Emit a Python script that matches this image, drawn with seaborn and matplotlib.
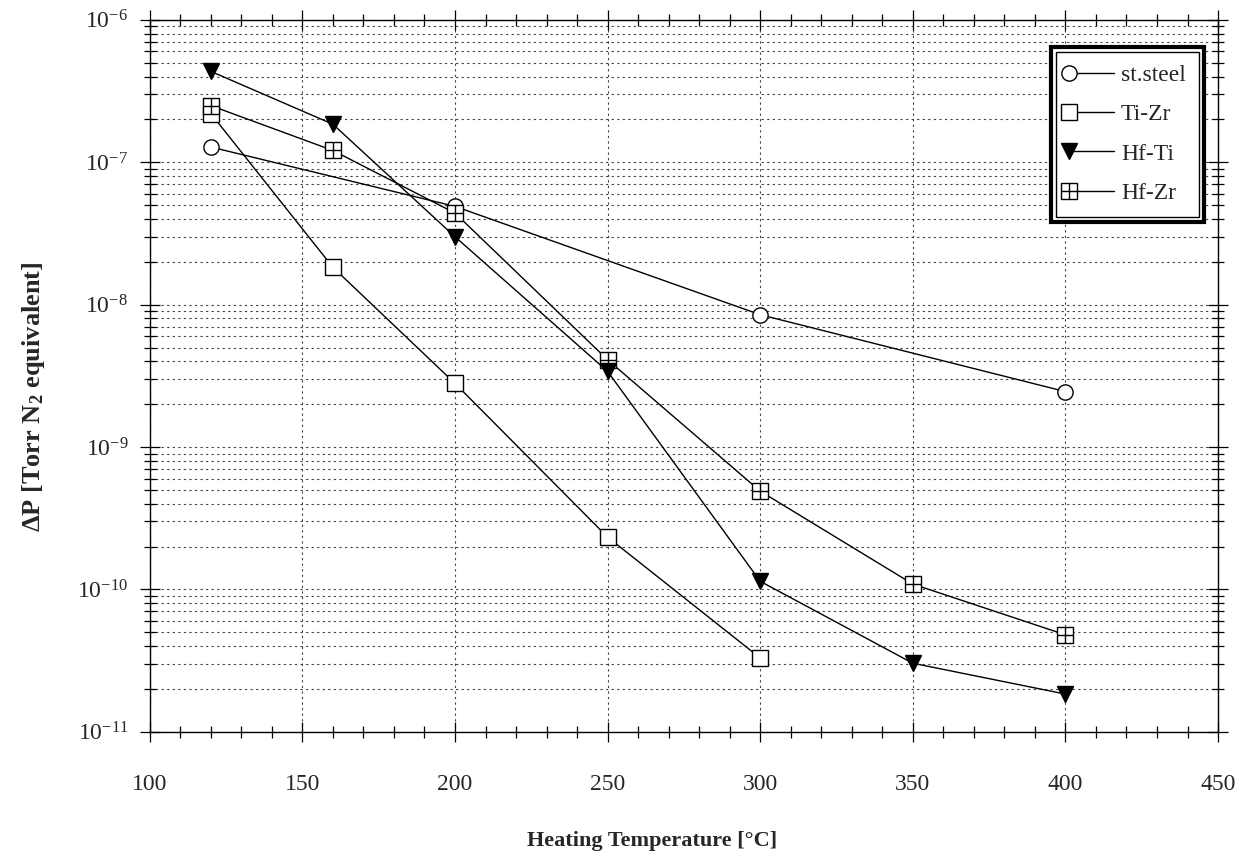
import numpy as np
import pandas as pd
import matplotlib.pyplot as plt
import seaborn as sns
from matplotlib.path import Path
from matplotlib.patches import Rectangle
from matplotlib.lines import Line2D
from matplotlib.legend_handler import HandlerLine2D
from matplotlib.ticker import FixedLocator, LogLocator, MultipleLocator, NullFormatter

# values (Torr N2 equivalent)
temps_steel = [120, 200, 300, 400]
steel = [1.28e-7, 4.9e-8, 8.5e-9, 2.45e-9]

temps_tizr = [120, 160, 200, 250, 300]
tizr = [2.2e-7, 1.83e-8, 2.8e-9, 2.33e-10, 3.3e-11]

temps_hf = [120, 160, 200, 250, 300, 350, 400]
hfti = [4.35e-7, 1.85e-7, 3.0e-8, 3.4e-9, 1.14e-10, 3.03e-11, 1.84e-11]
hfzr = [2.5e-7, 1.21e-7, 4.4e-8, 4.1e-9, 4.9e-10, 1.09e-10, 4.8e-11]

series = ["st.steel", "Ti-Zr", "Hf-Ti", "Hf-Zr"]
y_decades = [1e-11, 1e-10, 1e-9, 1e-8, 1e-7, 1e-6]

df = pd.concat([
    pd.DataFrame({"T": temps_steel, "dP": steel, "sample": "st.steel"}),
    pd.DataFrame({"T": temps_tizr, "dP": tizr, "sample": "Ti-Zr"}),
    pd.DataFrame({"T": temps_hf, "dP": hfti, "sample": "Hf-Ti"}),
    pd.DataFrame({"T": temps_hf, "dP": hfzr, "sample": "Hf-Zr"}),
])

# square with a cross inside
sq_plus = Path(
    [(-1, -1), (1, -1), (1, 1), (-1, 1), (-1, -1), (0, -1), (0, 1), (-1, 0), (1, 0)],
    [Path.MOVETO, Path.LINETO, Path.LINETO, Path.LINETO, Path.CLOSEPOLY,
     Path.MOVETO, Path.LINETO, Path.MOVETO, Path.LINETO],
)
marker_style = {
    "st.steel": dict(marker="o", markerfacecolor="white", zorder=3),
    "Ti-Zr": dict(marker="s", markerfacecolor="white", zorder=3),
    "Hf-Ti": dict(marker="v", markerfacecolor="black", zorder=4),
    "Hf-Zr": dict(marker=sq_plus, markerfacecolor="white", zorder=3),
}


class LeftMarker(HandlerLine2D):
    # marker at the left end of the legend line, as in the old plot
    def create_artists(self, legend, orig_handle, xdescent, ydescent,
                       width, height, fontsize, trans):
        arts = super().create_artists(legend, orig_handle, xdescent, ydescent,
                                      width, height, fontsize, trans)
        arts[0].set_markevery([0])
        return arts


sns.set_style("ticks")
plt.rcParams["font.family"] = ["Liberation Serif", "DejaVu Serif"]
plt.rcParams["mathtext.default"] = "regular"

fig, ax = plt.subplots(figsize=(12.48, 8.65), dpi=100)
fig.subplots_adjust(left=0.120, right=0.976, top=0.977, bottom=0.154)

for name in series:
    sns.lineplot(data=df[df["sample"] == name], x="T", y="dP", ax=ax,
                 color="black", lw=1.0, label=name, markersize=11,
                 markeredgecolor="black", markeredgewidth=1.0,
                 **marker_style[name])

ax.set_yscale("log")
ax.set_xlim(100, 450)
ax.set_ylim(1e-11, 1e-6)
ax.xaxis.set_major_locator(MultipleLocator(50))
ax.xaxis.set_minor_locator(MultipleLocator(10))
ax.yaxis.set_major_locator(FixedLocator(y_decades))
ax.yaxis.set_minor_locator(LogLocator(base=10, subs=np.arange(2, 10), numticks=20))
ax.yaxis.set_minor_formatter(NullFormatter())

ax.grid(which="major", axis="x", color="0.25", linestyle=(0, (2, 3)), lw=0.8)
ax.grid(which="both", axis="y", color="0.25", linestyle=(0, (2, 3)), lw=0.8)

ax.tick_params(which="both", direction="inout", top=True, right=True,
               color="black", width=0.9, labelsize=17)
ax.tick_params(which="major", length=15)
ax.tick_params(which="minor", length=8)
ax.tick_params(axis="x", which="major", pad=23)
ax.tick_params(axis="y", which="major", pad=8)
for sp in ax.spines.values():
    sp.set_visible(True)
    sp.set_color("black")
    sp.set_linewidth(1.0)

ax.set_xlabel("Heating Temperature [°C]", fontsize=16, fontweight="bold")
ax.set_ylabel(r"ΔP [Torr N$_2$ equivalent]", fontsize=19, fontweight="bold")
ax.xaxis.set_label_coords(0.47, -0.14)
ax.yaxis.set_label_coords(-0.096, 0.47)

leg = ax.legend(loc="upper right", bbox_to_anchor=(0.9865, 0.962), fontsize=17,
                frameon=True, fancybox=False, framealpha=1, edgecolor="black",
                handlelength=1.9, handletextpad=0.3, labelspacing=0.75,
                borderpad=0.75, borderaxespad=0,
                handler_map={Line2D: LeftMarker()})
leg.get_frame().set_linewidth(3)

# thin inner line of the double legend border
fig.canvas.draw()
bb = leg.get_frame().get_window_extent(fig.canvas.get_renderer())
inset = 5
(x0, y0), (x1, y1) = fig.transFigure.inverted().transform(
    [(bb.x0 + inset, bb.y0 + inset), (bb.x1 - inset, bb.y1 - inset)])
fig.add_artist(Rectangle((x0, y0), x1 - x0, y1 - y0, transform=fig.transFigure,
                         fill=False, edgecolor="black", lw=1.0, zorder=10))

fig.savefig("out.png", dpi=100)
